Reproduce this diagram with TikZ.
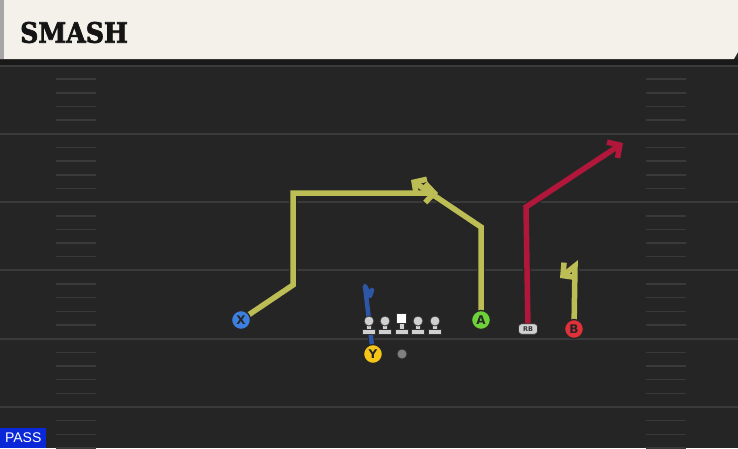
\documentclass[tikz,border=0pt]{standalone}
\usepackage{fontspec}
\setmainfont{Liberation Sans}
\newfontfamily\slabfont[BoldFeatures={FakeBold=2.5}]{DejaVu Serif}
\newfontfamily\badgefont{DejaVu Sans}
\usetikzlibrary{arrows.meta}
\definecolor{fieldbg}{HTML}{252525}
\definecolor{fieldline}{HTML}{3A3A3A}
\definecolor{headbg}{HTML}{F4F1EA}
\definecolor{routeyel}{HTML}{BDBD55}
\definecolor{routered}{HTML}{B0173A}
\definecolor{routeblue}{HTML}{2E56A6}
\definecolor{plblue}{HTML}{3D7FE0}
\definecolor{plyel}{HTML}{F5C518}
\definecolor{plgreen}{HTML}{6FD13A}
\definecolor{plred}{HTML}{E0303A}
\definecolor{linegray}{HTML}{D0D0D0}
\definecolor{passblue}{HTML}{0A28D8}
\pgfdeclarelayer{field}
\pgfdeclarelayer{routes}
\pgfsetlayers{field,routes,main}
\tikzset{
  player/.style={circle, draw=black!85, line width=1.3pt, minimum size=19pt, inner sep=0pt,
    font=\badgefont\fontsize{12}{12}\selectfont\bfseries, text=black!85},
  routeout/.style={line width=8pt, draw=black!85, line join=miter, line cap=butt,
    -{Straight Barb[length=9pt,width=19pt]}},
  routein/.style={line width=5.5pt, line join=miter, line cap=butt,
    -{Straight Barb[length=9pt,width=19pt]}},
  lmhead/.style={circle, fill=linegray, draw=black!80, line width=0.8pt, minimum size=10pt, inner sep=0pt},
  lmpart/.style={fill=linegray, draw=black!80, line width=0.8pt},
}
\begin{document}
\begin{tikzpicture}[x=1pt,y=-1pt]
\useasboundingbox (0,0) rectangle (738,448);
\begin{pgfonlayer}{field}
  \fill[fieldbg] (0,0) rectangle (738,448);
  % header
  \fill[black!90] (0,59) rectangle (738,66);
  \fill[headbg] (0,0) -- (738,0) -- (738,52) -- (734,59) -- (0,59) -- cycle;
  \fill[black!35] (0,0) rectangle (4,59);
  % yard lines
  \foreach \y in {65.5,133.8,202.1,270.4,338.7,407} {
    \draw[fieldline, line width=2pt] (0,\y) -- (738,\y);
  }
  % hash marks
  \foreach \b in {65.5,133.8,202.1,270.4,338.7,407} {
    \foreach \k in {1,2,3,4} {
      \draw[fieldline, line width=1.5pt] (56,\b+\k*13.66) -- (96,\b+\k*13.66);
      \draw[fieldline, line width=1.5pt] (646,\b+\k*13.66) -- (686,\b+\k*13.66);
    }
  }
\end{pgfonlayer}
% title
\node[anchor=west, inner sep=0pt, text=black!92, xscale=0.9] (title) at (20,32.5)
  {\slabfont\fontsize{28}{28}\selectfont\bfseries SMASH};
% PASS tag
\node[anchor=south west, fill=passblue, text=white, inner sep=0pt, minimum width=46pt,
  minimum height=20pt, font=\fontsize{14}{14}\selectfont] (pass) at (0,448) {PASS};

% players
\node[player, fill=plblue] (X) at (241,320) {X};
\node[player, fill=plyel] (Y) at (373,354) {Y};
\node[player, fill=plgreen] (A) at (481,320) {A};
\node[player, fill=plred] (B) at (574,329) {B};
\node[fill=linegray, draw=black!80, line width=0.8pt, rounded corners=3pt,
  minimum width=19pt, minimum height=10.5pt, inner sep=0pt,
  font=\badgefont\fontsize{6.5}{6.5}\selectfont\bfseries, text=black!80] (RB) at (528,329) {RB};
\node[circle, fill=black!50, draw=black!80, line width=0.8pt, minimum size=10pt, inner sep=0pt] (QB) at (402,354) {};

% offensive line
\foreach \x/\n in {369/L1,385/L2,418/L3,435/L4} {
  \fill[lmpart] (\x-2.5,321) rectangle (\x+2.5,331);
  \fill[lmpart] (\x-6.5,329.5) rectangle (\x+6.5,334.5);
  \node[lmhead] (\n) at (\x,321) {};
}
\fill[lmpart] (399,321) rectangle (404,331);
\fill[lmpart] (395,329.5) rectangle (408,334.5);
\node[fill=white, draw=black!80, line width=0.8pt, minimum size=9.5pt, inner sep=0pt] (C) at (401.5,318.5) {};

% routes
\coordinate (x1) at (293,285);
\coordinate (x2) at (293,193);
\coordinate (xe) at (438,193);
\coordinate (a1) at (481,227);
\coordinate (ae) at (411,180);
\coordinate (r1) at (526,207);
\coordinate (re) at (623,143);
\coordinate (b1) at (575,266);
\coordinate (be) at (560,278);
\coordinate (y1) at (365,286);
\coordinate (y2) at (370,296);
\coordinate (ye) at (372,290);
\begin{pgfonlayer}{routes}
  \draw[routeout] (X.center) -- (x1) -- (x2) -- (xe);
  \draw[routeout] (A.center) -- (a1) -- (ae);
  \draw[routeout] (RB.center) -- (r1) -- (re);
  \draw[routeout] (B.center) -- (b1) -- (be);
  \draw[routein, routeyel] (X.center) -- (x1) -- (x2) -- (xe);
  \draw[routein, routeyel] (A.center) -- (a1) -- (ae);
  \draw[routein, routered] (RB.center) -- (r1) -- (re);
  \draw[routein, routeyel] (B.center) -- (b1) -- (be);
  \draw[black!85, line width=6.5pt, line join=round, line cap=round] (Y.center) -- (y1) -- (y2) -- (ye);
  \draw[routeblue, line width=4.5pt, line join=round, line cap=round] (Y.center) -- (y1) -- (y2) -- (ye);
\end{pgfonlayer}
\end{tikzpicture}
\end{document}
